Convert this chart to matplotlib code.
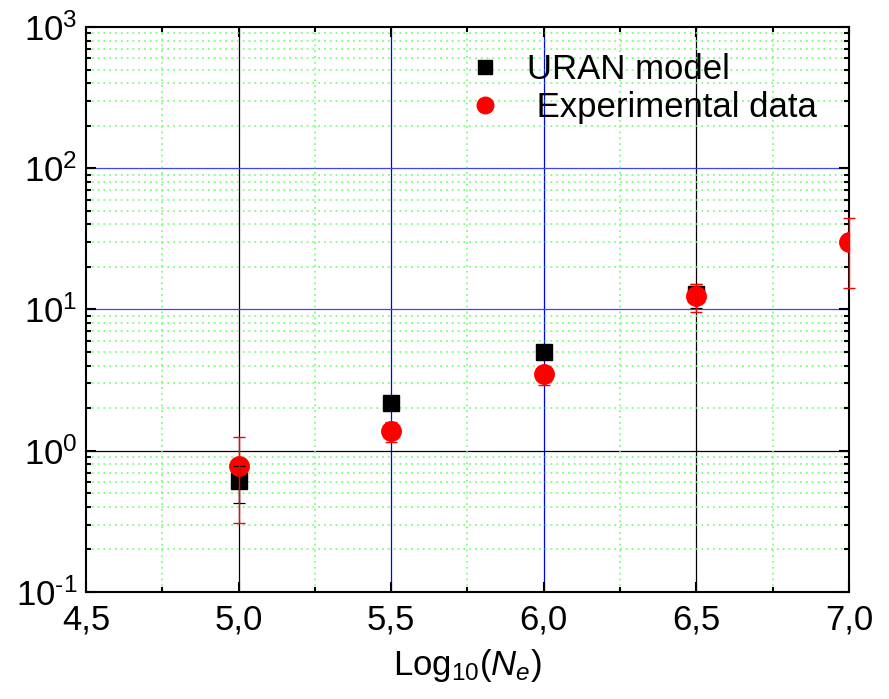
import math
import matplotlib
matplotlib.use("Agg")
import matplotlib.pyplot as plt
from matplotlib.ticker import FuncFormatter, MultipleLocator, LogLocator, NullFormatter

plt.rcParams['font.family'] = ['Liberation Sans', 'DejaVu Sans']
plt.rcParams['mathtext.fontset'] = 'custom'
plt.rcParams['mathtext.rm'] = 'Liberation Sans'
plt.rcParams['mathtext.it'] = 'Liberation Sans:italic'
plt.rcParams['axes.unicode_minus'] = False

# URAN model
uran_x = [5.0, 5.5, 6.0, 6.5]
uran_y = [0.61, 2.18, 5.0, 12.9]
uran_err_lo = [0.18, 0.0, 0.0, 2.7]
uran_err_hi = [0.17, 0.0, 0.0, 2.3]

# Experimental data
exp_x = [5.0, 5.5, 6.0, 6.5, 7.0]
exp_y = [0.78, 1.38, 3.48, 12.4, 30.0]
exp_err_lo = [0.47, 0.23, 0.58, 2.8, 15.8]
exp_err_hi = [0.47, 0.22, 0.0, 2.7, 14.5]

# major grid lines and their colours (as in the original)
vgrid_x = [5.0, 5.5, 6.0, 6.5]
vgrid_c = ['black', 'blue', 'blue', 'black']
hgrid_y = [1, 10, 100]
hgrid_c = ['black', '#4040ff', '#4040ff']


def pow10(v, pos):
    e = round(math.log10(v))
    if e < 0:
        return r"$\mathregular{10^{\text{-}%d}}$" % (-e)
    return r"$\mathregular{10^{%d}}$" % e


fig = plt.figure(figsize=(8.89, 6.99), dpi=100)
ax = fig.add_axes([0.0967, 0.1531, 0.8583, 0.8083])

ax.set_yscale('log')
ax.set_xlim(4.5, 7.0)
ax.set_ylim(0.1, 1000)

ax.xaxis.set_major_locator(MultipleLocator(0.5))
ax.xaxis.set_minor_locator(MultipleLocator(0.25))
ax.yaxis.set_major_locator(LogLocator(base=10, numticks=10))
ax.yaxis.set_minor_locator(LogLocator(base=10, subs=range(2, 10), numticks=20))
ax.yaxis.set_minor_formatter(NullFormatter())

ax.xaxis.set_major_formatter(FuncFormatter(lambda v, p: f"{v:.1f}".replace('.', ',')))
ax.yaxis.set_major_formatter(FuncFormatter(pow10))

ax.grid(True, which='minor', color='#66ff66', linestyle=(0, (1.2, 2.6)), linewidth=1.1)
for xv, c in zip(vgrid_x, vgrid_c):
    ax.axvline(xv, color=c, linewidth=0.9, zorder=1)
for yv, c in zip(hgrid_y, hgrid_c):
    ax.axhline(yv, color=c, linewidth=0.9, zorder=1)

ax.plot(uran_x, uran_y, 's', color='black', markersize=11.5, zorder=3,
        label='URAN model')
ax.plot(exp_x, exp_y, 'o', color='red', markersize=14, zorder=4,
        label=' Experimental data')
ax.errorbar(uran_x, uran_y, yerr=[uran_err_lo, uran_err_hi], fmt='none',
            ecolor='black', elinewidth=0.9, capsize=4, capthick=0.9, zorder=5)
ax.errorbar(exp_x, exp_y, yerr=[exp_err_lo, exp_err_hi], fmt='none',
            ecolor='red', elinewidth=1.0, capsize=4, capthick=1.0, zorder=5,
            clip_on=False)

ax.tick_params(which='both', direction='in', top=True, right=True,
               labelsize=25, width=1.5)
ax.tick_params(which='major', length=7, pad=8)
ax.tick_params(which='minor', length=3.5)
ax.tick_params(axis='y', pad=6)
for s in ax.spines.values():
    s.set_linewidth(1.5)

ax.set_xlabel(r"Log$_{10}$($N_e$)", fontsize=25, labelpad=8)

leg = ax.legend(loc='upper left', bbox_to_anchor=(0.469, 0.997), frameon=False,
                fontsize=25, handlelength=1.0, handletextpad=0.7,
                labelspacing=0.15, borderpad=0.2, markerscale=0.85)

fig.savefig('out.png', dpi=100)
